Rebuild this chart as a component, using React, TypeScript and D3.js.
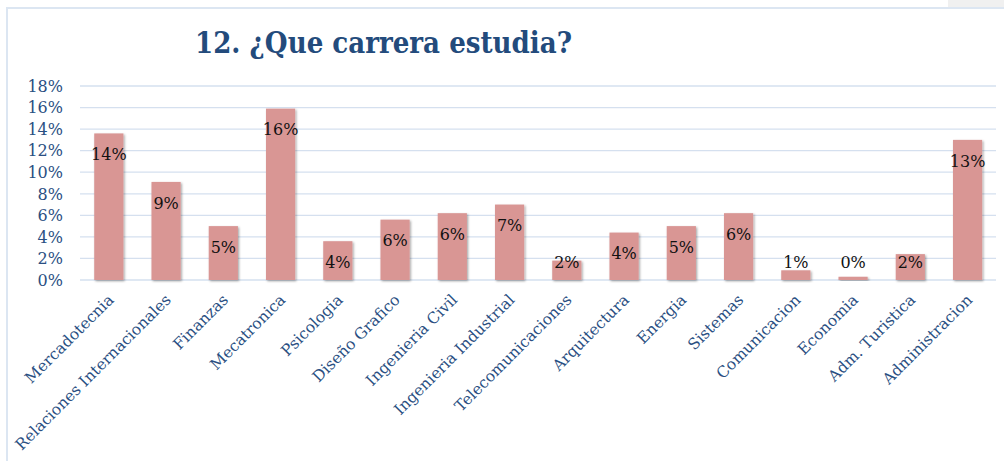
import React from "react";
import * as d3 from "d3";

const categories = [
  "Mercadotecnia",
  "Relaciones Internacionales",
  "Finanzas",
  "Mecatronica",
  "Psicologia",
  "Diseño Grafico",
  "Ingenieria Civil",
  "Ingenieria Industrial",
  "Telecomunicaciones",
  "Arquitectura",
  "Energia",
  "Sistemas",
  "Comunicacion",
  "Economia",
  "Adm. Turistica",
  "Administracion",
];
const values = [13.6, 9.1, 5.0, 15.9, 3.6, 5.6, 6.2, 7.0, 1.8, 4.4, 5.0, 6.2, 0.9, 0.3, 2.4, 13.0];
const yTicks = [0, 2, 4, 6, 8, 10, 12, 14, 16, 18];
const title = "12. ¿Que carrera estudia?";

const W = 1004;
const H = 461;
const serif = "'DejaVu Serif', serif";

export default function App() {
  const x = d3.scaleBand<string>().domain(categories).range([80.2, 996.2]).paddingInner(0.49).paddingOuter(0.245);
  const y = d3.scaleLinear().domain([0, 18]).range([280, 86]);
  const blue = "#2a4f82";

  return (
    <svg width={W} height={H} style={{ position: "absolute", left: 0, top: 0, background: "#fff" }}>
      <defs>
        <filter id="sh" x="-20%" y="-20%" width="150%" height="150%">
          <feDropShadow dx="1.2" dy="1.2" stdDeviation="1" floodColor="#000" floodOpacity="0.35" />
        </filter>
      </defs>
      <rect x={948} y={0} width={56} height={7} fill="#f0f0f0" />
      <line x1={6} x2={W} y1={8} y2={8} stroke="#dce6f2" strokeWidth={2} />
      <line x1={7} x2={7} y1={8} y2={H} stroke="#dce6f2" strokeWidth={2} />
      <text x={195} y={53} fontFamily={serif} fontWeight="bold" fontSize={30} fill="#234b7c" textLength={377} lengthAdjust="spacingAndGlyphs">
        {title}
      </text>
      {yTicks.map((t) => (
        <g key={t}>
          <line x1={80} x2={996} y1={y(t)} y2={y(t)} stroke="#d5e0ef" strokeWidth={1.3} />
          <text x={63} y={y(t)} dy="0.36em" textAnchor="end" fontFamily={serif} fontSize={16} fill={blue}>
            {t}%
          </text>
        </g>
      ))}
      {categories.map((c, i) => {
        const v = values[i];
        const bx = x(c)!;
        const bw = x.bandwidth();
        const top = y(v);
        const ly = Math.min(top + 21, 262);
        const cx = bx + bw / 2;
        return (
          <g key={c}>
            <rect x={bx} y={top} width={bw} height={y(0) - top} fill="#d99694" filter="url(#sh)" />
            <text x={cx} y={ly} dy="0.36em" textAnchor="middle" fontFamily={serif} fontSize={16} fill="#111">
              {Math.round(v)}%
            </text>
            <text
              transform={`translate(${cx + 2},${297}) rotate(-45)`}
              textAnchor="end"
              dy="0.35em"
              fontFamily={serif}
              fontSize={15.5}
              fill={blue}
            >
              {c}
            </text>
          </g>
        );
      })}
    </svg>
  );
}
